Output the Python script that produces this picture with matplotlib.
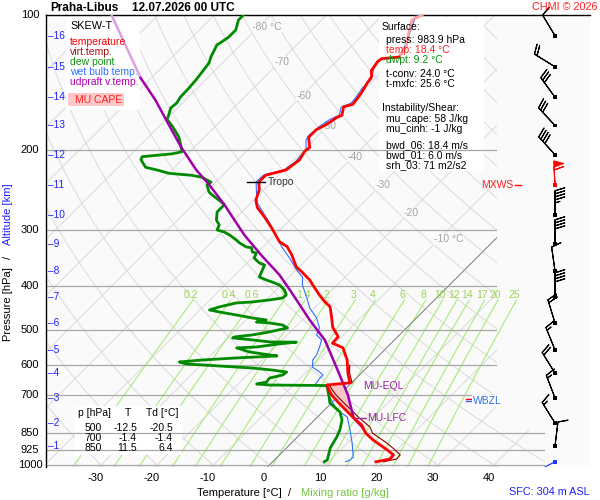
import numpy as np
import matplotlib
matplotlib.use("Agg")
import matplotlib.pyplot as plt
from matplotlib.patches import Rectangle, Polygon
from matplotlib.transforms import ScaledTranslation, blended_transform_factory
from matplotlib.ticker import NullLocator

plt.rcParams['font.family'] = ['Liberation Sans', 'DejaVu Sans']

# ---- sounding (p in hPa, t in deg C) ----
temp_p = [100, 102.6, 109.8, 118, 124, 125, 127, 133, 137, 142,
          149, 154, 158, 160, 167, 169, 175, 180, 187, 197,
          201, 210, 221, 227, 235, 245, 258, 268, 281, 297,
          319, 327, 341, 363, 373, 388, 404, 419, 434, 445,
          469, 494, 519, 536, 549, 584, 625, 657, 664, 681,
          699, 725, 755, 786, 815, 828, 850, 880, 926, 950, 970, 983.9]
temp_t = [-53.0, -53.9, -52.1, -50.1, -49.6, -52.4, -52.6, -52.1, -51.0, -50.6,
          -49.9, -49.6, -49.4, -50.6, -49.4, -49.9, -50.5, -51.4, -51.4, -49.4,
          -49.6, -49.0, -49.6, -52.3, -52.3, -50.8, -49.6, -48.0, -45.1, -41.9,
          -38.0, -35.8, -33.5, -30.5, -28.5, -25.8, -23.5, -21.4, -19.2, -17.4,
          -15.3, -13.3, -10.6, -10.5, -7.8, -4.9, -2.4, -0.3, -4.0, -2.8,
          -1.4, 1.0, 3.8, 6.6, 9.3, 10.1, 11.5, 14.0, 18.3, 20.3, 20.4, 18.4]

tv_p = [600, 625, 657, 664, 681, 699, 725, 755, 786, 823, 850, 894, 926, 950, 970, 983.9]
tv_t = [-3.5, -2.1, 0.1, -3.6, -2.2, -0.6, 1.9, 4.8, 7.6, 11.1, 12.7, 17.0, 19.7, 21.5, 21.6, 19.7]

dew_p = [100, 102.6, 108, 112, 114.9, 116.6, 118.5, 124.1, 127.7, 132.5,
         139.3, 145.3, 152.3, 156.9, 161, 166.8, 170.7, 176.8, 186.6, 196.4,
         201.4, 203.5, 206.5, 209.6, 218, 221.4, 224.8, 227.1, 229.4, 235.2,
         238.8, 247.4, 251.2, 260.1, 264.1, 274, 285.5, 292.9, 300.4, 303.5,
         308.2, 316.2, 321, 327.7, 329, 336.3, 338, 346.8, 355.7, 359.4,
         368.7, 382.2, 388.1, 394, 398.1, 408.4, 419, 425.5, 429.8, 434.3,
         436.5, 445.5, 452.4, 457.1, 464.2, 471.4, 476.2, 481.1, 483.5, 488.6,
         496, 506.2, 514, 519.3, 522, 527.4, 532.8, 533.5, 538.2, 546.7,
         549.4, 560.8, 569.5, 572.4, 575.4, 578.3, 584.3, 590.3, 596.4, 602.7,
         609, 615.3, 621.6, 631.2, 641, 654.2, 660.9, 664.3, 666, 674.4,
         706, 728.1, 762.3, 794.3, 836, 866.6, 917, 974.7, 983.9]
dew_t = [-84.8, -84.8, -83.5, -83.5, -83.9, -84.2, -83.9, -83.1, -82.4, -82.1,
         -81.7, -81.5, -81.4, -81.0, -81.2, -80.3, -79.8, -77.6, -74.6, -72.4,
         -71.4, -72.8, -77.6, -77.3, -75.1, -72.3, -69.9, -65.5, -63.3, -60.8,
         -61.0, -59.4, -58.3, -55.5, -54.4, -54.4, -53.1, -51.7, -51.2, -49.6,
         -48.1, -46.0, -44.9, -43.0, -41.9, -41.0, -40.1, -39.6, -37.8, -36.5,
         -36.0, -35.3, -33.5, -31.5, -30.3, -28.5, -27.3, -27.4, -29.4, -32.1,
         -34.8, -37.1, -38.3, -36.2, -32.6, -29.2, -26.4, -27.8, -25.3, -22.6,
         -21.2, -23.7, -26.2, -29.0, -29.2, -25.3, -21.9, -17.1, -19.8, -23.3,
         -26.7, -23.7, -19.6, -18.1, -21.5, -24.9, -30.6, -34.4, -32.8, -26.5,
         -20.3, -16.4, -13.5, -13.7, -15.5, -15.3, -16.7, -14.2, -4.0, -3.4,
         -1.5, -0.3, 3.1, 4.9, 6.3, 7.0, 7.8, 9.4, 9.2]

wb_p = [100, 108, 115.5, 124.1, 125.9, 131.2, 139.3, 145.3, 152.3, 156.9,
        160.2, 166.8, 170.7, 176.8, 184.7, 189.5, 199.5, 204.5, 212, 221,
        227, 235, 245, 261.4, 281.2, 289.9, 311.4, 329, 346.8, 368.7,
        382.2, 398.1, 425.5, 447.8, 471.4, 496, 514, 527.4, 546.7, 569.5,
        584.3, 605.9, 621.6, 631.2, 641, 661, 666, 669, 706, 754.7,
        782.2, 836, 893.6, 959.9, 974.7, 983.9]
wb_t = [-54.0, -52.3, -50.8, -49.6, -52.6, -52.1, -50.5, -50.6, -50.1, -49.9,
        -51.0, -49.9, -50.8, -51.4, -51.7, -51.4, -49.6, -49.6, -49.4, -50.0,
        -52.7, -52.8, -51.3, -48.9, -44.8, -43.1, -39.4, -36.4, -33.3, -29.9,
        -27.6, -26.2, -23.1, -20.8, -17.8, -15.5, -14.8, -13.0, -12.1, -11.2,
        -11.0, -9.8, -7.6, -6.5, -6.5, -6.2, -5.9, -3.7, -1.4, 2.2,
        5.3, 8.1, 10.8, 13.5, 13.5, 13.0]

parcel_p = [100, 138, 154.6, 171, 196.5, 221, 238.6, 264, 308, 341.5,
            378, 408, 441, 476, 527.6, 615, 699, 786, 828]
parcel_t = [-108.3, -91.9, -85.3, -79.9, -72.4, -65.6, -60.6, -54.4, -45.5, -38.9,
            -32.1, -27.6, -23.1, -18.7, -12.4, -4.8, 1.5, 6.6, 10.1]

# altitude marks (km) and the pressure where they sit
alt_km = list(range(1, 17))
alt_p = [907.5, 806.6, 709.7, 624.8, 555.1, 483.5, 423.3, 370.6,
         322.8, 278.3, 238.8, 204.5, 176.0, 152.3, 130.4, 111.2]

# winds at each km (direction deg, speed kt)
wind_dir = [7, 328, 339, 328, 338, 343, 0, 352, 0, 0, 357, 318, 317, 324, 302, 329]
wind_spd = [10, 15, 15, 20, 15, 20, 40, 10, 40, 45, 60, 40, 30, 30, 20, 10]
max_wind_km = 11
sfc_p = 983.9
sfc_dir = 243

tropo_p, tropo_t = 235, -52.3
eql_p, lfc_p = 668, 786
freeze_p, wbzl_p = 714, 721

isobars = [100, 200, 300, 400, 500, 600, 700, 850, 925, 1000]
mix_ratios = [0.2, 0.4, 0.6, 1, 1.4, 2, 3, 4, 6, 8, 10, 12, 14, 17, 20, 25]
iso_lab_t = [-80, -70, -60, -50, -40, -30, -20, -10]
iso_lab_p = [106.6, 127, 151.4, 176.8, 206.5, 238.8, 275.4, 315.1]

tab_p = [500, 700, 850]
tab_t = [-12.5, -1.4, 11.5]
tab_td = [-20.5, -1.4, 6.4]

# ---- geometry of the skew-T ----
SKEW = 80.16   # deg C of shift per decade of pressure
PXC = 5.614    # pixels per deg C
X0 = 269.5     # pixel column of 0 C at 1000 hPa


def skewx(t, p):
    return np.asarray(t, float) + SKEW * np.log10(1000.0 / np.asarray(p, float))


def px2x(px):
    return (px - X0) / PXC


def dewpt_of_mix(w, p):
    e = w * p / (622.0 + w)
    a = np.log(e / 6.112)
    return 243.5 * a / (17.67 - a)


fig = plt.figure(figsize=(6, 5), dpi=100)
top_px, bot_px = 15, 466.9
ax = fig.add_axes([46 / 600, 1 - bot_px / 500, 544 / 600, (bot_px - top_px) / 500])
ax.set_yscale('log')
ax.set_ylim(1010, 100)
xl, xr = px2x(46), px2x(590)
ax.set_xlim(xl, xr)
ax.set_facecolor('#fafafa')
for s in ['right', 'bottom']:
    ax.spines[s].set_visible(False)
ax.spines['left'].set_linewidth(1.0)
ax.spines['top'].set_linewidth(1.0)
for a in (ax.xaxis, ax.yaxis):
    a.set_major_locator(NullLocator())
    a.set_minor_locator(NullLocator())

shift = ScaledTranslation(-5.5 / 100, 0, fig.dpi_scale_trans)

clip = Polygon([(xl, 100), (px2x(497), 100), (px2x(497), 836), (px2x(545), 836),
                (px2x(545), 1010), (xl, 1010)], closed=True,
               transform=ax.transData, fill=False, visible=False)
ax.add_patch(clip)

# background grid
pp = np.array([100.0, 1010.0])
for t in range(-150, 50, 10):
    ln, = ax.plot(skewx(t, pp), pp, color='#dadada', lw=0.7, zorder=1)
    ln.set_clip_path(clip)
ln, = ax.plot(skewx(0, pp), pp, color='#777777', lw=0.6, zorder=1.2)
ln.set_clip_path(clip)

pa = np.geomspace(100, 1010, 80)
for th in range(-40, 230, 10):
    tt = (th + 273.15) * (pa / 1000.0) ** 0.2857 - 273.15
    ln, = ax.plot(skewx(tt, pa), pa, color='#dadada', lw=0.7, zorder=1)
    ln.set_clip_path(clip)

pm = np.geomspace(430, 1010, 30)
for w in mix_ratios:
    ax.plot(skewx(dewpt_of_mix(w, pm), pm), pm, color='#a6ec7c', lw=0.8, zorder=1.1)
    ax.text(skewx(dewpt_of_mix(w, 419), 419), 419, '%g' % w, color='#9ad452',
            fontsize=7.5, ha='center', va='center', zorder=1.6,
            transform=ax.transData + shift)

for t, p in zip(iso_lab_t, iso_lab_p):
    lab = '%d °C' % t if t in (-80, -10) else '%d' % t
    ax.text(skewx(t, p), p, lab, color='#a4a4a4', fontsize=7.5, ha='left', va='center',
            zorder=1.6, transform=ax.transData + shift,
            bbox=dict(facecolor='#fafafa', edgecolor='none', pad=0.3))

# white boxes
def box(x0, y0, x1, y1, fc):
    ax.add_patch(Rectangle((x0 / 600, 1 - y1 / 500), (x1 - x0) / 600, (y1 - y0) / 500,
                           transform=fig.transFigure, facecolor=fc, edgecolor='none',
                           zorder=1.5))

box(66, 17, 140, 110, 'white')
box(379, 17, 484, 171, 'white')
box(75, 406, 182, 455, 'white')
box(68, 93, 124, 106, '#ffc8c8')

# isobars
for p in isobars[1:]:
    ln, = ax.plot([xl, px2x(545)], [p, p], color='#a8a8a8', lw=0.9, zorder=2)
    ln.set_clip_path(clip)

# CAPE area
pg = np.geomspace(655, lfc_p, 80)
xp_ = np.interp(pg, parcel_p, skewx(parcel_t, parcel_p))
xe_ = np.interp(pg, temp_p, skewx(temp_t, temp_p))
ax.fill_betweenx(pg, xe_, xp_, where=xp_ > xe_, interpolate=True,
                 color='#f8c6c6', lw=0, zorder=2.5)

# profiles
ax.plot(skewx(wb_t, wb_p), wb_p, color='#2f6fff', lw=0.8, zorder=3)
ax.plot(skewx(tv_t, tv_p), tv_p, color='#8b0000', lw=0.8, zorder=3.1)
ax.plot(skewx(dew_t, dew_p), dew_p, color='#008a00', lw=2.0, zorder=3.2)
ax.plot(skewx(parcel_t[:2], parcel_p[:2]), parcel_p[:2], color='#dca0dc', lw=1.8, zorder=3.3)
ax.plot(skewx(parcel_t[1:], parcel_p[1:]), parcel_p[1:], color='#a000a8', lw=1.8, zorder=3.3)
ax.plot(skewx(temp_t[:5], temp_p[:5]), temp_p[:5], color='#ffa0a0', lw=2.0, zorder=3.4)
ax.plot(skewx(temp_t[4:], temp_p[4:]), temp_p[4:], color='#ff0000', lw=2.0, zorder=3.4)

# tropopause
xt = float(skewx(tropo_t, tropo_p))
ax.plot([xt - 12 / PXC, xt + 6 / PXC], [tropo_p, tropo_p], color='black', lw=1.0, zorder=4)
ax.text(xt + 9 / PXC, tropo_p, 'Tropo', color='#333333', fontsize=7.5, ha='left',
        va='center', zorder=4)

# level marks
purple = '#a020a0'
ax.text(px2x(363), eql_p, 'MU-EQL', color=purple, fontsize=7.5, va='center', zorder=4)
ax.plot([px2x(355), px2x(366)], [lfc_p, lfc_p], color=purple, lw=1.0, zorder=4)
ax.text(px2x(367), lfc_p, 'MU-LFC', color=purple, fontsize=7.5, va='center', zorder=4)

ax.plot([px2x(466), px2x(471)], [freeze_p, freeze_p], color='red', lw=1.0, zorder=4)
ax.plot([px2x(466), px2x(471)], [wbzl_p, wbzl_p], color='#2f6fff', lw=1.0, zorder=4)
ax.text(px2x(473), wbzl_p, 'WBZL', color='#3070e0', fontsize=7.5, va='center', zorder=4,
        bbox=dict(facecolor='white', edgecolor='none', pad=1.0))

mxws_p = alt_p[alt_km.index(max_wind_km)]
ax.plot([px2x(515), px2x(521)], [mxws_p, mxws_p], color='red', lw=1.0, zorder=4)
ax.text(px2x(513), mxws_p, 'MXWS', color='#ff2020', fontsize=7.5, ha='right',
        va='center', zorder=4)

# wind barbs
bx = px2x(555)
rad = np.radians(wind_dir)
spd = np.array(wind_spd, float)
u = -spd * np.sin(rad)
v = -spd * np.cos(rad)
cols = ['red' if k == max_wind_km else 'black' for k in alt_km]
ax.barbs(np.full(len(alt_p), bx), alt_p, u, v, length=5.9, linewidth=0.8,
         barbcolor=cols, flagcolor=cols, zorder=6, clip_on=False)
ax.scatter(np.full(len(alt_p), bx), alt_p, s=7, marker='s', c=cols, linewidths=0,
           zorder=7, clip_on=False)
sr = np.radians(sfc_dir)
ax.quiver([bx], [sfc_p], [16 * np.sin(sr)], [16 * np.cos(sr)], angles='uv',
          scale_units='dots', scale=1, units='dots', width=1.2, headwidth=1,
          headlength=0, headaxislength=0, color='#1a3cff', zorder=6)
ax.scatter([bx], [sfc_p], s=7, marker='s', c='#1a3cff', linewidths=0, zorder=7,
           clip_on=False)

# axis labels
ytr = ax.get_yaxis_transform()
for p in isobars:
    ax.text(-16 / 544, p, str(p), transform=ytr, ha='center', va='center', fontsize=8)
for k, p in zip(alt_km, alt_p):
    ax.text(1.5 / 544, p, '\u2013%d' % k, transform=ytr, ha='left', va='center',
            fontsize=7.3, color='#2020ff', zorder=5)
xtr = blended_transform_factory(ax.transData, fig.transFigure) + shift
for t in range(-30, 41, 10):
    ax.text(t, 1 - 478 / 500, str(t), transform=xtr, ha='center', va='center', fontsize=8)


def ftext(x, y, s, **kw):
    kw.setdefault('fontsize', 7.5)
    kw.setdefault('va', 'center')
    fig.text(x / 600, 1 - y / 500, s, **kw)


ftext(239, 493, 'Temperature [°C]', ha='center', fontsize=8)
ftext(290, 493, '/', ha='center', fontsize=8)
ftext(345, 493, 'Mixing ratio [g/kg]', ha='center', fontsize=8, color='#72c83c')
ftext(8, 304, 'Pressure [hPa]', ha='center', rotation=90, fontsize=8)
ftext(8, 257, '/', ha='center', rotation=90, fontsize=8)
ftext(8, 214, 'Altitude [km]', ha='center', rotation=90, fontsize=8, color='#2020ff')
ftext(590, 492, 'SFC: 304 m ASL', ha='right', fontsize=7.8, color='#2020ff')

ftext(50, 8, 'Praha-Libus', fontsize=8.5, fontweight='bold')
ftext(132, 8, '12.07.2026 00 UTC', fontsize=8.5, fontweight='bold')
ftext(597, 7, 'CHMI © 2026', ha='right', fontsize=7.8, color='#ff2020')

# legend
ftext(70, 26, 'SKEW-T', fontsize=7.8)
for i, (s, c) in enumerate([('temperature', '#ff0000'), ('virt.temp.', '#a01010'),
                            ('dew point', '#109010'), ('wet bulb temp.', '#3070ff'),
                            ('udpraft v.temp.', '#b000b0')]):
    ftext(70, 42 + 10 * i, s, color=c)
ftext(75, 100, 'MU CAPE', color='#ff2020')

# surface / instability text
ftext(382, 27, 'Surface:')
ftext(386, 40, 'press: 983.9 hPa')
ftext(386, 50, 'temp: 18.4 °C', color='#ff2020')
ftext(386, 60, 'dwpt: 9.2 °C', color='#109010')
ftext(386, 74, 't-conv: 24.0 °C')
ftext(386, 84, 't-mxfc: 25.6 °C')
ftext(382, 108, 'Instability/Shear:')
ftext(386, 119, 'mu_cape: 58 J/kg')
ftext(386, 129, 'mu_cinh: -1 J/kg')
ftext(386, 145, 'bwd_06: 18.4 m/s')
ftext(386, 155, 'bwd_01: 6.0 m/s')
ftext(386, 165, 'srh_03: 71 m2/s2')

# table
ftext(78, 413, 'p [hPa]')
ftext(128, 413, 'T', ha='center')
ftext(146, 413, 'Td [°C]')
for i, (p, t, td) in enumerate(zip(tab_p, tab_t, tab_td)):
    y = 428 + 10 * i
    ftext(102, y, str(p), ha='right')
    ftext(137, y, '%.1f' % t, ha='right')
    ftext(173, y, '%.1f' % td, ha='right')

fig.savefig('out.png', dpi=100)
